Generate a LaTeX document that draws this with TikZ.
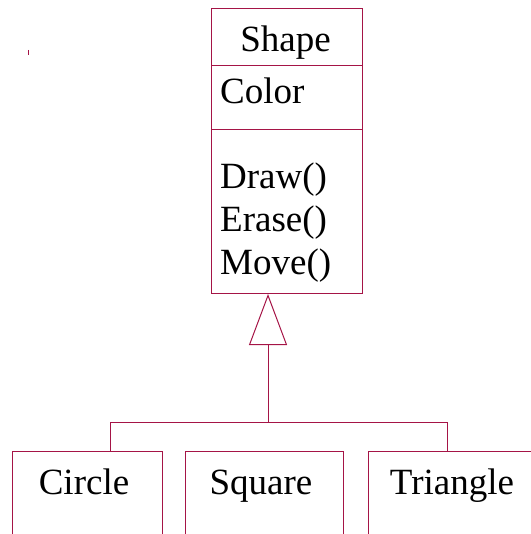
\documentclass[tikz,border=0pt]{standalone}
\usepackage{fontspec}
\setmainfont{Liberation Serif}
\usepackage{xcolor}
\usepackage{tikz}
\usetikzlibrary{arrows.meta}
\definecolor{umlred}{RGB}{165,20,70}

\begin{document}
\begin{tikzpicture}[x=1pt,y=-1pt,
    box/.style={draw=umlred,line width=1pt,rectangle,inner sep=0pt},
    txt/.style={inner sep=0pt,font=\fontsize{37}{42}\selectfont},
    link/.style={draw=umlred,line width=1pt}]
    \useasboundingbox (0,0) rectangle (530,534);
    \node[box,minimum width=151pt,minimum height=57pt] (head) at (286.5,37.5) {};
    \node[box,minimum width=151pt,minimum height=64pt] (attrs) at (286.5,98) {};
    \node[box,minimum width=151pt,minimum height=163pt] (ops) at (286.5,211.5) {};
    \node[txt,anchor=base] (shapename) at (285.5,52) {Shape};
    \node[txt,anchor=base west] (color) at (220,104) {Color};
    \node[txt,anchor=base west] (draw) at (220,189) {Draw()};
    \node[txt,anchor=base west] (erase) at (220,232) {Erase()};
    \node[txt,anchor=base west] (move) at (220,274) {Move()};
    \node[box,minimum width=150pt,minimum height=129pt] (circ) at (87,515.5) {};
    \node[box,minimum width=158pt,minimum height=129pt] (sq) at (264,515.5) {};
    \node[box,minimum width=168pt,minimum height=129pt] (tri) at (452,515.5) {};
    \node[txt,anchor=base] (circname) at (84,494) {Circle};
    \node[txt,anchor=base] (sqname) at (261,494) {Square};
    \node[txt,anchor=base] (triname) at (452,494) {Triangle};
    \coordinate (tip) at (268,294);
    \coordinate (bus) at (268,422.5);
    \coordinate (jl) at (110,422.5);
    \coordinate (jr) at (447,422.5);
    \draw[link,-{Triangle[open,length=51pt,width=38pt]}] (bus) -- (tip);
    \draw[link] (circ.north -| jl) -- (jl) -- (jr) -- (tri.north -| jr);
    \draw[link] (28,50) -- (28,55);
\end{tikzpicture}
\end{document}
